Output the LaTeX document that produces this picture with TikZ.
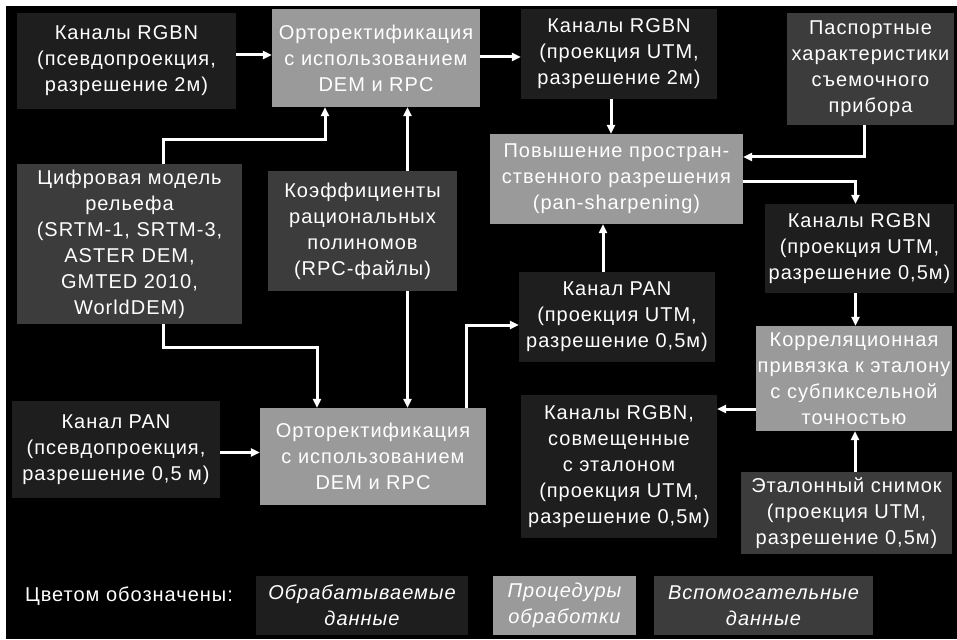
\documentclass[tikz,border=0pt]{standalone}
\usepackage{fontspec}
\setmainfont{Liberation Sans}[LetterSpace=5]
\usepackage{xcolor}
\usetikzlibrary{arrows.meta}
\definecolor{datafill}{HTML}{1E1E1E}
\definecolor{procfill}{HTML}{9A9A9A}
\definecolor{auxfill}{HTML}{3C3C3C}
\tikzset{
  boxtext/.style={text=white, align=center, inner sep=0pt,
    font=\fontsize{20}{26}\selectfont},
  databox/.style={boxtext, fill=datafill},
  procbox/.style={boxtext, fill=procfill},
  auxbox/.style={boxtext, fill=auxfill},
  legtext/.style={font=\fontsize{20}{26}\selectfont\itshape, minimum height=59pt},
  arr/.style={draw=white, line width=3pt, -{Triangle[length=9pt,width=8pt]}}
}

\begin{document}
\begin{tikzpicture}[x=1pt, y=-1pt]
                % Draw the background
                \useasboundingbox (0,0) rectangle (957,639);
                \fill[white] (0,0) rectangle (957,639);
                \fill[black] (6,6) rectangle (957,639);

                % Draw the input data
                \node[databox, minimum width=219pt, minimum height=96pt] (rgbnA) at (126.5,61) {Каналы RGBN\\(псевдопроекция,\\разрешение 2м)};
                \node[databox, minimum width=208pt, minimum height=97pt] (panA) at (116,449.5) {Канал PAN\\(псевдопроекция,\\разрешение 0,5 м)};

                % Draw the orthorectification steps
                \node[procbox, minimum width=208pt, minimum height=98pt] (orthoA) at (376,58) {Орторектификация\\с использованием\\DEM и RPC};
                \node[procbox, minimum width=226pt, minimum height=97pt] (orthoB) at (373,456.5) {Орторектификация\\с использованием\\DEM и RPC};

                % Draw the auxiliary data
                \node[auxbox, minimum width=225pt, minimum height=159pt] (dem) at (129.5,244) {Цифровая модель\\рельефа\\(SRTM-1, SRTM-3,\\ASTER DEM,\\GMTED 2010,\\WorldDEM)};
                \node[auxbox, minimum width=189pt, minimum height=120pt] (rpc) at (362.5,231) {Коэффициенты\\рациональных\\полиномов\\(RPC-файлы)};
                \node[auxbox, minimum width=167pt, minimum height=112pt] (passport) at (870.5,69) {Паспортные\\характеристики\\съемочного\\прибора};
                \node[auxbox, minimum width=211pt, minimum height=82pt] (etalon) at (846.5,513) {Эталонный снимок\\(проекция UTM,\\разрешение 0,5м)};

                % Draw the intermediate data
                \node[databox, minimum width=196pt, minimum height=90pt] (rgbnB) at (619,54) {Каналы RGBN\\(проекция UTM,\\разрешение 2м)};
                \node[databox, minimum width=196pt, minimum height=90pt] (panB) at (617,317) {Канал PAN\\(проекция UTM,\\разрешение 0,5м)};
                \node[databox, minimum width=189pt, minimum height=89pt] (rgbnC) at (859.5,248.5) {Каналы RGBN\\(проекция UTM,\\разрешение 0,5м)};
                \node[databox, minimum width=196pt, minimum height=143pt] (rgbnD) at (619,466.5) {Каналы RGBN,\\совмещенные\\с эталоном\\(проекция UTM,\\разрешение 0,5м)};

                % Draw the pan-sharpening and correlation steps
                \node[procbox, minimum width=253pt, minimum height=90pt] (pansharp) at (616.5,179) {Повышение простран-\\ственного разрешения\\(pan-sharpening)};
                \node[procbox, minimum width=196pt, minimum height=105pt] (corr) at (854,378.5) {Корреляционная\\привязка к эталону\\с субпиксельной\\точностью};

                % Draw the legend
                \node[boxtext] (legend) at (129,596) {Цветом обозначены:};
                \node[databox, legtext, minimum width=212pt] (legData) at (362,605.5) {Обрабатываемые\\данные};
                \node[procbox, legtext, minimum width=143pt] (legProc) at (564.5,605.5) {Процедуры\\обработки};
                \node[auxbox, legtext, minimum width=219pt] (legAux) at (763.5,605.5) {Вспомогательные\\данные};

                % Draw the connectors of the left part
                \draw[arr] ([yshift=6pt]rgbnA.east) -- ([yshift=6pt]rgbnA.east -| orthoA.west);
                \draw[arr] ([xshift=34pt]dem.north) -- ++(0,25pt) -| ([xshift=-51pt]orthoA.south);
                \draw[arr] ([xshift=45pt]rpc.north) -- ([xshift=45pt]rpc.north |- orthoA.south);
                \draw[arr] ([xshift=45pt]rpc.south) -- ([xshift=45pt]rpc.south |- orthoB.north);
                \draw[arr] ([xshift=34pt]dem.south) -- ++(0,-24pt) -| ([xshift=-56pt]orthoB.north);
                \draw[arr] ([yshift=-3pt]panA.east) -- ([yshift=-3pt]panA.east -| orthoB.west);

                % Draw the connectors of the right part
                \draw[arr] ([yshift=1pt]orthoA.east) -- ([yshift=1pt]orthoA.east -| rgbnB.west);
                \draw[arr] ([xshift=-8pt]rgbnB.south) -- ([xshift=-8pt]rgbnB.south |- pansharp.north);
                \draw[arr] ([xshift=-6pt]passport.south) |- ([yshift=22pt]pansharp.east);
                \draw[arr] ([yshift=-2pt]pansharp.east) -| ([xshift=-4pt]rgbnC.north);
                \draw[arr] ([xshift=93pt]orthoB.north) |- ([yshift=-8pt]panB.west);
                \draw[arr] ([xshift=-14pt]panB.north) -- ([xshift=-14pt]panB.north |- pansharp.south);
                \draw[arr] ([xshift=-4pt]rgbnC.south) -- ([xshift=-4pt]rgbnC.south |- corr.north);
                \draw[arr] ([xshift=8.5pt]etalon.north) -- ([xshift=8.5pt]etalon.north |- corr.south);
                \draw[arr] ([yshift=-30.5pt]corr.west) -- ([yshift=-30.5pt]corr.west -| rgbnD.east);
            \end{tikzpicture}
\end{document}
